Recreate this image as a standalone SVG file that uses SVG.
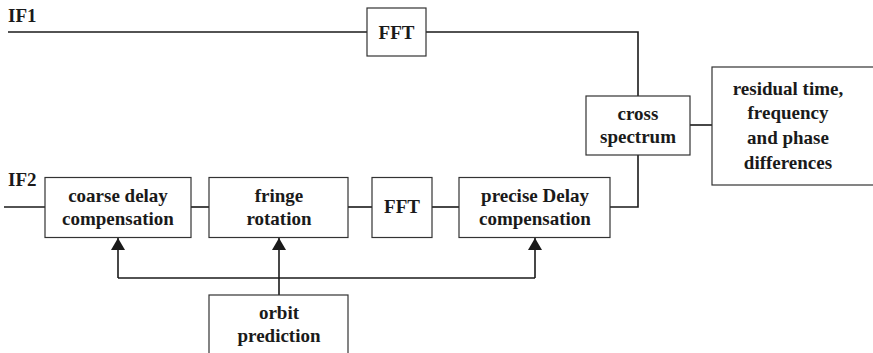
<svg xmlns="http://www.w3.org/2000/svg" width="873" height="353" viewBox="0 0 873 353">
  <style>
    .box { fill: #ffffff; stroke: #333333; stroke-width: 1.2; }
    .wire { fill: none; stroke: #1a1a1a; stroke-width: 1.6; }
    text { font-family: 'Liberation Serif', 'Times New Roman', 'DejaVu Serif', serif; font-weight: 700; font-size: 19px; fill: #1a1a1a; }
    .lbl { text-anchor: middle; }
  </style>
  <defs>
    <marker id="arrow" viewBox="0 0 12 14" refX="12" refY="7" markerWidth="12" markerHeight="14" markerUnits="userSpaceOnUse" orient="auto">
      <path d="M0,0 L12,7 L0,14 Z" fill="#1a1a1a"/>
    </marker>
  </defs>

  <!-- input labels -->
  <text x="8" y="22">IF1</text>
  <text x="8" y="186">IF2</text>

  <!-- connectors -->
  <g id="connectors">
    <polyline class="wire" points="8,32 367,32"/>
    <polyline class="wire" points="426,32 638,32 638,96"/>
    <polyline class="wire" points="4,207 45,207"/>
    <polyline class="wire" points="191,207 209,207"/>
    <polyline class="wire" points="348,207 372,207"/>
    <polyline class="wire" points="432,207 459,207"/>
    <polyline class="wire" points="610,207 638,207 638,155"/>
    <polyline class="wire" points="690,125 712,125"/>
    <!-- orbit prediction feeds -->
    <polyline class="wire" points="279,295 279,238" marker-end="url(#arrow)"/>
    <polyline class="wire" points="118,278 535,278"/>
    <polyline class="wire" points="118,278 118,238" marker-end="url(#arrow)"/>
    <polyline class="wire" points="535,278 535,238" marker-end="url(#arrow)"/>
  </g>

  <g id="fft1">
    <rect class="box" x="367" y="8" width="59" height="48"/>
    <text class="lbl" x="396.5" y="39">FFT</text>
  </g>

  <g id="coarse-delay">
    <rect class="box" x="45" y="177.5" width="146" height="60"/>
    <text class="lbl" x="118" y="202">coarse delay</text>
    <text class="lbl" x="118" y="225">compensation</text>
  </g>

  <g id="fringe-rotation">
    <rect class="box" x="209" y="177.5" width="139" height="60"/>
    <text class="lbl" x="279" y="202">fringe</text>
    <text class="lbl" x="279" y="225">rotation</text>
  </g>

  <g id="fft2">
    <rect class="box" x="372" y="177.5" width="60" height="60"/>
    <text class="lbl" x="402" y="213">FFT</text>
  </g>

  <g id="precise-delay">
    <rect class="box" x="459" y="177.5" width="151" height="60"/>
    <text class="lbl" x="535" y="202">precise Delay</text>
    <text class="lbl" x="535" y="225">compensation</text>
  </g>

  <g id="cross-spectrum">
    <rect class="box" x="586" y="96" width="104" height="59"/>
    <text class="lbl" x="638" y="120">cross</text>
    <text class="lbl" x="638" y="143">spectrum</text>
  </g>

  <g id="residuals">
    <rect class="box" x="712" y="67" width="170" height="118"/>
    <text class="lbl" x="788" y="95">residual time,</text>
    <text class="lbl" x="788" y="119">frequency</text>
    <text class="lbl" x="788" y="144">and phase</text>
    <text class="lbl" x="788" y="169">differences</text>
  </g>

  <g id="orbit-prediction">
    <rect class="box" x="209" y="295" width="139" height="70"/>
    <text class="lbl" x="279" y="319">orbit</text>
    <text class="lbl" x="279" y="342">prediction</text>
  </g>
</svg>
